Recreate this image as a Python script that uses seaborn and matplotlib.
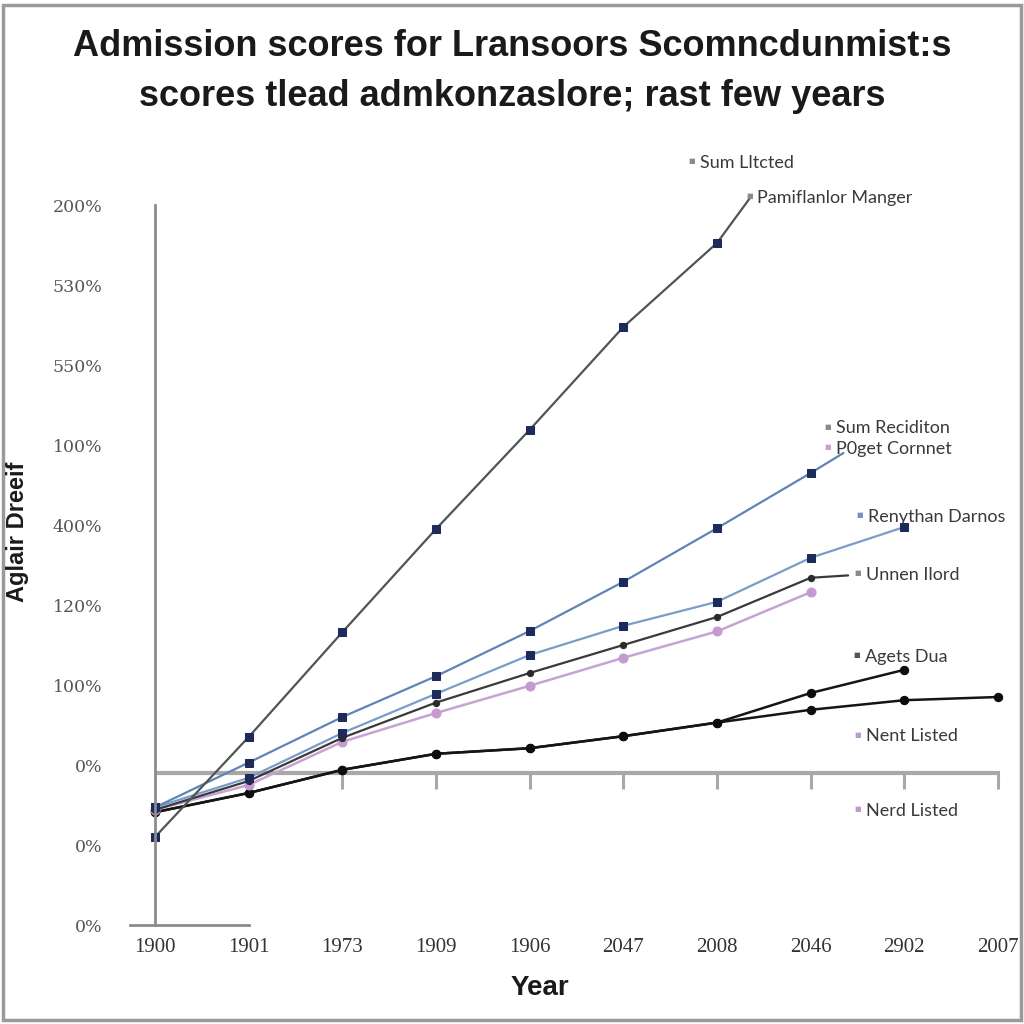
import matplotlib
matplotlib.use("Agg")
import matplotlib.pyplot as plt
import seaborn as sns
import pandas as pd
from matplotlib.patches import Rectangle

# ---------------- data ----------------
x_tick_labels = ["1900", "1901", "1973", "1909", "1906", "2047", "2008", "2046", "2902", "2007"]
y_tick_labels = ["0%", "0%", "0%", "100%", "120%", "400%", "100%", "550%", "530%", "200%"]

title_line1 = "Admission scores for Lransoors Scomncdunmist:s"
title_line2 = "scores tlead admkonzaslore; rast few years"
x_label = "Year"
y_label = "Aglair Dreeif"

pam_x = [0, 1, 2, 3, 4, 5, 6, 6.36]
pam_y = [1.1, 2.35, 3.66, 4.95, 6.19, 7.475, 8.525, 9.1]

sumrec_x = [0, 1, 2, 3, 4, 5, 6, 7, 7.35]
sumrec_y = [1.47, 2.03, 2.6, 3.11, 3.675, 4.29, 4.96, 5.65, 5.9]

reny_x = [0, 1, 2, 3, 4, 5, 6, 7, 8]
reny_y = [1.47, 1.84, 2.4, 2.89, 3.375, 3.74, 4.04, 4.59, 4.975]

unnen_x = [0, 1, 2, 3, 4, 5, 6, 7, 7.4]
unnen_y = [1.44, 1.8, 2.34, 2.78, 3.15, 3.5, 3.85, 4.34, 4.37]

nent_x = [0, 1, 2, 3, 4, 5, 6, 7]
nent_y = [1.44, 1.75, 2.29, 2.65, 2.99, 3.34, 3.67, 4.16]

agets_x = [0, 1, 2, 3, 4, 5, 6, 7, 8]
agets_y = [1.41, 1.65, 1.94, 2.14, 2.21, 2.36, 2.53, 2.9, 3.19]

nerd_x = [0, 1, 2, 3, 4, 5, 6, 7, 8, 9]
nerd_y = [1.41, 1.65, 1.94, 2.14, 2.21, 2.36, 2.53, 2.69, 2.81, 2.85]

ref_level = 1.9  # light horizontal reference line

labels = ["Sum Lltcted", "Pamiflanlor Manger", "Sum Reciditon", "P0get Cornnet",
          "Renythan Darnos", "Unnen Ilord", "Agets Dua", "Nent Listed", "Nerd Listed"]
label_x = [5.82, 6.43, 7.27, 7.27, 7.61, 7.59, 7.58, 7.59, 7.59]
label_y = [9.525, 9.09, 6.21, 5.95, 5.1, 4.375, 3.35, 2.36, 1.425]
bullet_colors = ["#8a8a8a", "#8a8a8a", "#8a8a8a", "#c9a0c8", "#6f93c8",
                 "#8a8a8a", "#555555", "#b89ad0", "#c09ac8"]

# ---------------- figure ----------------
sns.set_theme(style="white")
plt.rcParams["font.family"] = ["Liberation Sans", "DejaVu Sans"]

fig = plt.figure(figsize=(10.24, 10.24), dpi=100)
fig.patch.set_facecolor("white")

# map pixels: x index 0 -> 155px, 9 -> 998px ; y 0 -> 925px, 9 -> 205px
xpx = (998 - 155) / 9.0
ypx = 80.0
xmin, xmax = -0.3, 9.2
ymin, ymax = -0.2, 9.9
L = 155 + xmin * xpx
R = 155 + xmax * xpx
B = 925 + (-ymin) * ypx   # pixel from top
T = 925 - ymax * ypx
ax = fig.add_axes([L / 1024, 1 - B / 1024, (R - L) / 1024, (B - T) / 1024])
ax.set_xlim(xmin, xmax)
ax.set_ylim(ymin, ymax)
ax.patch.set_alpha(0)


def draw(xs, ys, line_c, mark_c, ms=5.5, marker="s", n_mark=None, lw=1.6, mfc=None):
    df = pd.DataFrame({"x": xs, "y": ys})
    n = len(xs) if n_mark is None else n_mark
    sns.lineplot(data=df, x="x", y="y", ax=ax, color=line_c, linewidth=lw,
                 marker=marker, markersize=ms, markerfacecolor=mark_c if mfc is None else mfc,
                 markeredgecolor=mark_c, markevery=list(range(n)), sort=False,
                 estimator=None, clip_on=False, legend=False)


draw(nerd_x, nerd_y, "#151515", "#0d0d0d", marker="o", ms=6, lw=1.8)
draw(agets_x, agets_y, "#151515", "#0d0d0d", marker="o", ms=6, lw=1.8)
draw(nent_x, nent_y, "#c7a3d2", "#c49ad0", marker="o", ms=6.5, lw=1.8)
draw(unnen_x, unnen_y, "#3a3a3a", "#2a2a2a", marker="o", ms=4.5, n_mark=8, lw=1.6)
draw(reny_x, reny_y, "#7a9cc8", "#1c2a5c", ms=5.5, lw=1.6)
draw(sumrec_x, sumrec_y, "#5f84b6", "#1c2a5c", ms=5.5, n_mark=8, lw=1.6)
draw(pam_x, pam_y, "#4e5654", "#1c2a5c", ms=6, n_mark=7, lw=1.6)

# light reference line with tick marks
ax.plot([0, 9.02], [ref_level, ref_level], color="#a8a8a8", lw=3, solid_capstyle="butt", zorder=1)
ax.vlines(list(range(2, 10)), ref_level - 0.2, ref_level, color="#a8a8a8", lw=2.2, zorder=1)

# axes / spines
for s in ["top", "right"]:
    ax.spines[s].set_visible(False)
ax.spines["left"].set_position(("data", 0))
ax.spines["left"].set_bounds(0, 9)
ax.spines["bottom"].set_position(("data", 0))
ax.spines["bottom"].set_bounds(-0.27, 1.0)
for s in ["left", "bottom"]:
    ax.spines[s].set_color("#8c8c8c")
    ax.spines[s].set_linewidth(2)

ax.set_yticks(range(10))
ax.set_yticklabels(y_tick_labels, family="DejaVu Serif", fontsize=12.5, color="#555555")
ax.tick_params(axis="y", direction="out", length=16, width=2, color="#8c8c8c", pad=22)
ax.set_xticks(range(10))
ax.set_xticklabels(x_tick_labels, family="Liberation Serif", fontsize=15, color="#333333")
ax.tick_params(axis="x", length=0, pad=9)
ax.set_xlabel("")
ax.set_ylabel("")

# labels with bullets
for t, lx, ly, bc in zip(labels, label_x, label_y, bullet_colors):
    ax.text(lx, ly, t, fontsize=13, color="#3a3a3a", va="center", ha="left",
            family=["Lato", "DejaVu Sans"])
    ax.text(lx - 0.05, ly + 0.02, "■", fontsize=5, color=bc, va="center", ha="right",
            family="DejaVu Sans")

# titles & axis labels
fig.text(0.5, 1 - 47 / 1024, title_line1, ha="center", va="center", fontsize=26,
         fontweight="bold", color="#1a1a1a")
fig.text(0.5, 1 - 97 / 1024, title_line2, ha="center", va="center", fontsize=26,
         fontweight="bold", color="#1a1a1a")
fig.text(540 / 1024, 1 - 988 / 1024, x_label, ha="center", va="center", fontsize=20,
         fontweight="bold", color="#1a1a1a")
fig.text(18 / 1024, 1 - 532 / 1024, y_label, ha="center", va="center", fontsize=17,
         fontweight="bold", rotation=90, color="#1a1a1a")

# frame
fig.patches.append(Rectangle((0.003, 0.004), 0.994, 0.991, transform=fig.transFigure,
                             fill=False, edgecolor="#9a9a9a", linewidth=2.5))

fig.savefig("out.png", dpi=100)
